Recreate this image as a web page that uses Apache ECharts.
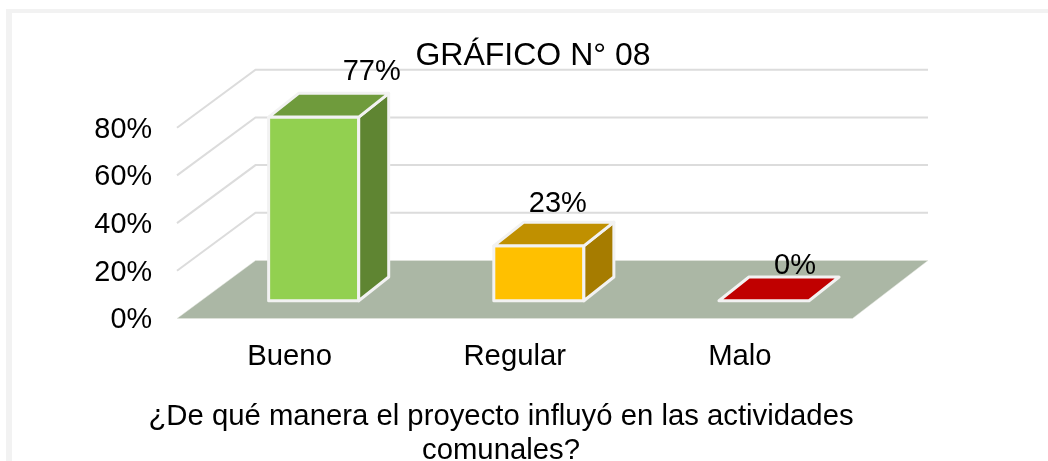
<!DOCTYPE html>
<html>
<head>
<meta charset="utf-8">
<style>
  html, body { margin: 0; padding: 0; background: #fff; }
  #chart { width: 1048px; height: 461px; }
</style>
<script src="https://cdn.jsdelivr.net/npm/echarts@6/dist/echarts.min.js"></script>
</head>
<body>
<div id="chart"></div>
<script>
const categories = ["Bueno", "Regular", "Malo"];
const values = [77, 23, 0];
const tickValues = [0, 20, 40, 60, 80];
const frontColors = ["#92d050", "#ffc000", "#c00000"];
const topColors = ["#6f9b3c", "#c09000", "#c00000"];
const sideColors = ["#5f8532", "#a67c00", "#8f0000"];
// labels were moved by hand in the original
const labelNudgeX = [58, 19, 31];
const labelNudgeY = [-21, -18, -11];

// floor depth and where the bar sits inside it
const floorDx = 78.5;
const floorDy = 58;
const backShrink = 3;
const barStart = 17.8;
const barDx = 30;
const barDy = 23.7;
const barRatio = 0.4;

const chart = echarts.init(document.getElementById("chart"));

function poly(points, fill, stroke, width) {
  return {
    type: "polygon",
    shape: { points: points },
    style: { fill: fill, stroke: stroke, lineWidth: width, lineJoin: "round" }
  };
}

function renderFloor(params, api) {
  const c = params.coordSys;
  const y0 = c.y + c.height;
  const backRight = c.x + c.width + floorDx - backShrink;
  // grid lines first, floor over them
  const children = tickValues.slice(1).map(function (t) {
    const y = api.coord([0, t])[1];
    return {
      type: "polyline",
      shape: {
        points: [
          [c.x, y],
          [c.x + floorDx, y - floorDy],
          [backRight, y - floorDy]
        ]
      },
      style: { fill: null, stroke: "#dcdcdc", lineWidth: 2 }
    };
  });
  children.push(poly([
    [c.x, y0],
    [c.x + floorDx, y0 - floorDy],
    [backRight, y0 - floorDy],
    [c.x + c.width, y0]
  ], "#abb7a5", "#e4e7e1", 0.5));
  // tick labels sit a bit lower than the axis would put them
  tickValues.forEach(function (t) {
    children.push({
      type: "text",
      style: {
        text: t + "%",
        x: c.x - 25,
        y: api.coord([0, t])[1] + 2,
        align: "right",
        verticalAlign: "middle",
        fill: "#000",
        font: "28.8px 'Liberation Sans'"
      }
    });
  });
  return { type: "group", children: children };
}

function renderBar(params, api) {
  const i = api.value(0);
  const val = api.value(1);
  const center = api.coord([i, 0]);
  const w = api.size([1, 0])[0] * barRatio;
  const offX = barStart * floorDx / floorDy;
  const l = center[0] + offX - w / 2;
  const r = l + w;
  const base = center[1] - barStart;
  const top = api.coord([i, val])[1] - barStart;
  const edge = "#f2f2f2";
  const children = [];
  if (val > 0) {
    children.push(poly([[l, top], [r, top], [r, base], [l, base]], frontColors[i], edge, 3));
    children.push(poly([[r, top], [r + barDx, top - barDy], [r + barDx, base - barDy], [r, base]], sideColors[i], edge, 3));
  }
  children.push(poly([[l, top], [l + barDx, top - barDy], [r + barDx, top - barDy], [r, top]], topColors[i], edge, 3));
  children.push({
    type: "text",
    style: {
      text: val + "%",
      x: (l + r) / 2 + labelNudgeX[i],
      y: top + labelNudgeY[i] - barDy,
      align: "center",
      verticalAlign: "middle",
      fill: "#000",
      font: "29px 'Liberation Sans'"
    }
  });
  return { type: "group", children: children };
}

chart.setOption({
  animation: false,
  backgroundColor: "#fff",
  textStyle: { fontFamily: "Liberation Sans", color: "#000" },
  graphic: [
    { type: "rect", silent: true, z: -10, shape: { x: 6, y: 9, width: 1042, height: 4 }, style: { fill: "#f2f2f2" } },
    { type: "rect", silent: true, z: -10, shape: { x: 6, y: 9, width: 6, height: 452 }, style: { fill: "#f2f2f2" } }
  ],
  title: [
    {
      text: "GRÁFICO N° 08",
      left: 528,
      top: 35,
      textAlign: "center",
      textStyle: { fontSize: 32, fontWeight: "normal", color: "#000", fontFamily: "Liberation Sans" }
    },
    {
      text: "¿De qué manera el proyecto influyó en las actividades\ncomunales?",
      left: 496,
      top: 395,
      textAlign: "center",
      textStyle: { fontSize: 29.3, lineHeight: 34, fontWeight: "normal", color: "#000", fontFamily: "Liberation Sans" }
    }
  ],
  grid: { left: 177, top: 127.7, width: 675.5, height: 190.8 },
  xAxis: {
    type: "category",
    data: categories,
    axisLine: { show: false },
    axisTick: { show: false },
    axisLabel: { fontSize: 29.3, color: "#000", margin: 24, fontFamily: "Liberation Sans" }
  },
  yAxis: {
    type: "value",
    min: 0,
    max: 80,
    interval: 20,
    splitLine: { show: false },
    axisLine: { show: false },
    axisTick: { show: false },
    axisLabel: { show: false }
  },
  series: [
    {
      type: "custom",
      z: 1,
      silent: true,
      renderItem: renderFloor,
      data: [[0, 0]],
      clip: false
    },
    {
      type: "custom",
      z: 2,
      renderItem: renderBar,
      encode: { x: 0, y: 1 },
      data: values.map(function (v, i) { return [i, v]; }),
      clip: false
    }
  ]
});
</script>
</body>
</html>
